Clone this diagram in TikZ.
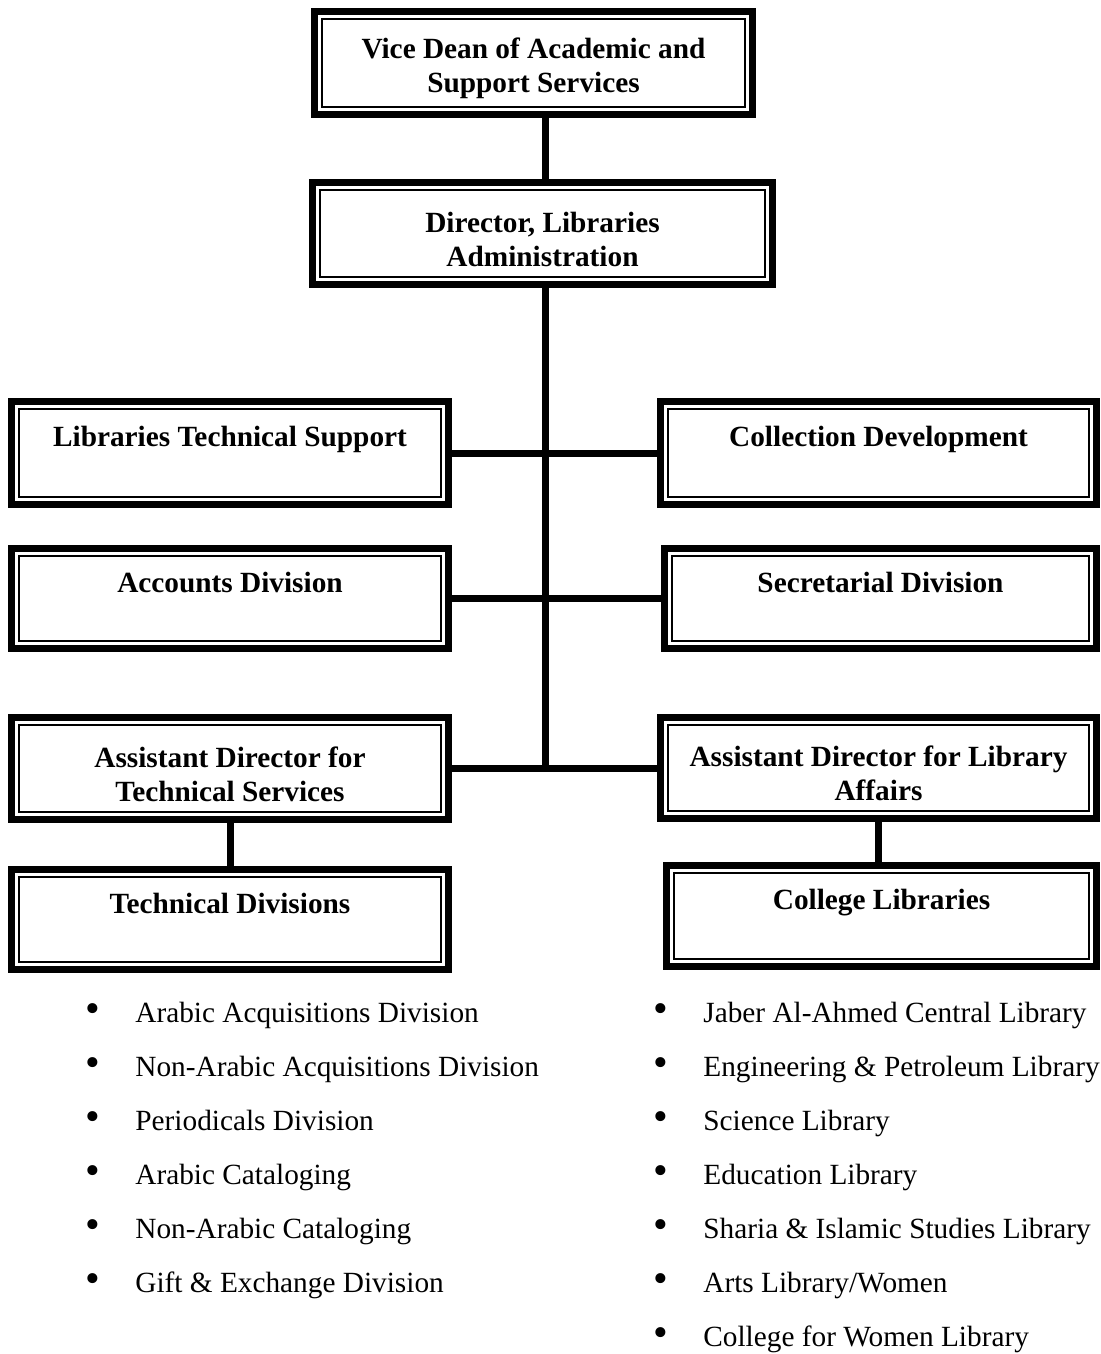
\documentclass[tikz,border=0pt]{standalone}
\usepackage{fontspec}
\setmainfont{Liberation Serif}
\usepackage{tikz}

\tikzset{
  unitbox/.style={draw, line width=3.5pt, inner sep=0pt, align=center,
    font=\fontsize{14.65}{17}\selectfont\bfseries},
  innerline/.style={line width=1pt},
  link/.style={line width=3.5pt},
  listitem/.style={anchor=base west, inner sep=0pt,
    font=\fontsize{14.65}{17}\selectfont}
}
\newcommand{\topgap}{\rule{0pt}{16pt}}
\newcommand{\listbullet}{\makebox[25pt][l]{{\fontsize{21}{21}\selectfont •}}}

\begin{document}
\begin{tikzpicture}[x=0.5pt,y=-0.5pt]
        \useasboundingbox (0,0) rectangle (1101,1354);

        % top of the chart
        \node[unitbox, minimum width=219pt, minimum height=51.5pt] (vice) at (533.5,63)
            {\topgap Vice Dean of Academic and\\Support Services};
        \node[unitbox, minimum width=230pt, minimum height=51pt] (dir) at (542.5,233.5)
            {\topgap Director, Libraries\\Administration};

        % units beside the spine
        \node[unitbox, minimum width=218.5pt, minimum height=51.5pt] (lts) at (230,453)
            {\topgap Libraries Technical Support\\\strut};
        \node[unitbox, minimum width=218pt, minimum height=51.5pt] (coll) at (878.5,453)
            {\topgap Collection Development\\\strut};
        \node[unitbox, minimum width=218.5pt, minimum height=50pt] (acc) at (230,598.5)
            {\topgap Accounts Division\\\strut};
        \node[unitbox, minimum width=216pt, minimum height=50pt] (sec) at (880.5,598.5)
            {\topgap Secretarial Division\\\strut};

        % assistant directors and their divisions
        \node[unitbox, minimum width=218.5pt, minimum height=51pt] (adts) at (230,768.5)
            {\topgap Assistant Director for\\Technical Services};
        \node[unitbox, minimum width=218pt, minimum height=50.5pt] (adla) at (878.5,768)
            {\topgap Assistant Director for Library\\Affairs};
        \node[unitbox, minimum width=218.5pt, minimum height=50pt] (tdiv) at (230,919.5)
            {\topgap Technical Divisions\\\strut};
        \node[unitbox, minimum width=215pt, minimum height=50.5pt] (clib) at (881.5,916)
            {\topgap College Libraries\\\strut};

        % thin inner frame of every box
        \foreach \n in {vice,dir,lts,coll,acc,sec,adts,adla,tdiv,clib}
            \draw[innerline] ([shift={(5.5pt,5.5pt)}]\n.south west) rectangle ([shift={(-5.5pt,-5.5pt)}]\n.north east);

        % connectors
        \coordinate (spine) at (545,0);
        \draw[link] (vice.south -| spine) -- (dir.north -| spine);
        \draw[link] (dir.south -| spine) -- (adts.east -| spine);
        \draw[link] (lts.east) -- (coll.west);
        \draw[link] (acc.east) -- (sec.west);
        \draw[link] (adts.east) -- (adts.east -| adla.west);
        \draw[link] (adts.south) -- (tdiv.north);
        \draw[link] (adla.south) -- (adla.south |- clib.north);

        % lists under the divisions
        \foreach \txt [count=\i] in {Arabic Acquisitions Division,Non-Arabic Acquisitions Division,
            Periodicals Division,Arabic Cataloging,Non-Arabic Cataloging,Gift \& Exchange Division}
            \node[listitem] (tsitem\i) at (85,968+54*\i) {\listbullet\txt};
        \foreach \txt [count=\i] in {Jaber Al-Ahmed Central Library,Engineering \& Petroleum Library,
            Science Library,Education Library,Sharia \& Islamic Studies Library,Arts Library/Women,
            College for Women Library}
            \node[listitem] (clitem\i) at (653,968+54*\i) {\listbullet\txt};
\end{tikzpicture}
\end{document}
